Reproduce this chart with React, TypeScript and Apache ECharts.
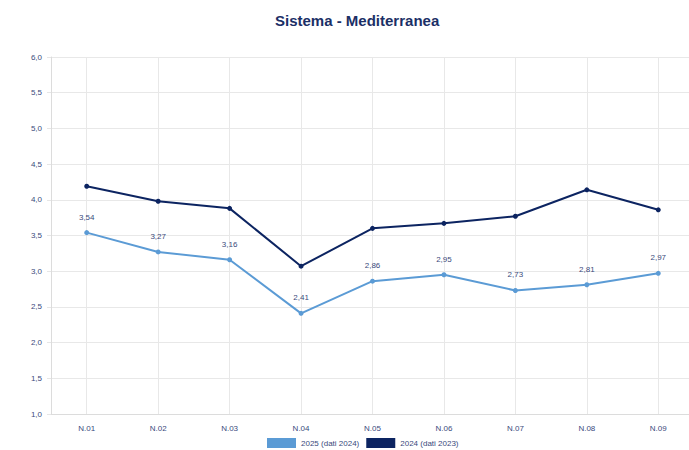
import React, { useEffect, useRef } from "react";
import * as echarts from "echarts";

const categories = ["N.01", "N.02", "N.03", "N.04", "N.05", "N.06", "N.07", "N.08", "N.09"];
const series2025 = [3.54, 3.27, 3.16, 2.41, 2.86, 2.95, 2.73, 2.81, 2.97];
const series2024 = [4.19, 3.98, 3.88, 3.07, 3.6, 3.67, 3.77, 4.14, 3.86];
const seriesNames = ["2025 (dati 2024)", "2024 (dati 2023)"];

const fmt = (v: number, d: number) => v.toFixed(d).replace(".", ",");

export default function App() {
  const ref = useRef<HTMLDivElement>(null);
  useEffect(() => {
    if (!ref.current) return;
    const chart = echarts.init(ref.current, null, { renderer: "svg" });
    const font = "'Liberation Sans', Arial, sans-serif";
    chart.setOption({
      animation: false,
      title: {
        text: "Sistema - Mediterranea",
        left: 270,
        top: 8,
        textStyle: { fontFamily: font, fontSize: 15, fontWeight: "bold", color: "#1b2f66" },
      },
      legend: {
        bottom: 2,
        left: 267,
        padding: 0,
        itemWidth: 29,
        itemHeight: 10,
        itemGap: 7,
        icon: "rect",
        data: seriesNames,
        textStyle: { fontFamily: font, fontSize: 8, color: "#3a4a7c" },
      },
      grid: { left: 51, top: 57, width: 643, bottom: 36, containLabel: false },
      xAxis: {
        type: "category",
        data: categories,
        boundaryGap: true,
        axisLine: { lineStyle: { color: "#dcdcdc" } },
        axisTick: { show: false },
        axisLabel: { fontFamily: font, fontSize: 8, color: "#3a4a7c", margin: 10 },
        splitLine: { show: false },
      },
      yAxis: {
        type: "value",
        min: 1,
        max: 6,
        interval: 0.5,
        axisLine: { show: true, lineStyle: { color: "#dcdcdc" } },
        axisTick: { show: true, length: 4, lineStyle: { color: "#e6e6e6" } },
        axisLabel: {
          fontFamily: font,
          fontSize: 8,
          color: "#3a4a7c",
          margin: 9,
          formatter: (v: number) => fmt(v, 1),
        },
        splitLine: { lineStyle: { color: "#e8e8e8" } },
      },
      series: [
        {
          name: seriesNames[0],
          type: "line",
          data: series2025,
          color: "#5b9bd5",
          symbol: "circle",
          symbolSize: 5,
          lineStyle: { width: 2, color: "#5b9bd5" },
          itemStyle: { color: "#5b9bd5" },
          z: 3,
          label: {
            show: true,
            position: "top",
            distance: 9,
            fontFamily: font,
            fontSize: 8,
            color: "#3a4a7c",
            formatter: (p: any) => fmt(p.value, 2),
          },
          markLine: {
            silent: true,
            symbol: "none",
            label: { show: false },
            lineStyle: { color: "#e8e8e8", type: "solid", width: 1 },
            data: categories.map((c) => ({ xAxis: c })),
            z: 1,
          },
        },
        {
          name: seriesNames[1],
          type: "line",
          data: series2024,
          color: "#0c2461",
          symbol: "circle",
          symbolSize: 5,
          lineStyle: { width: 2, color: "#0c2461" },
          itemStyle: { color: "#0c2461" },
          z: 3,
        },
      ],
    });
    return () => chart.dispose();
  }, []);
  return (
    <div style={{ width: 689, height: 450, position: "absolute", left: 0, top: 0, overflow: "hidden" }}>
      <div ref={ref} style={{ width: 700, height: 450 }} />
    </div>
  );
}
